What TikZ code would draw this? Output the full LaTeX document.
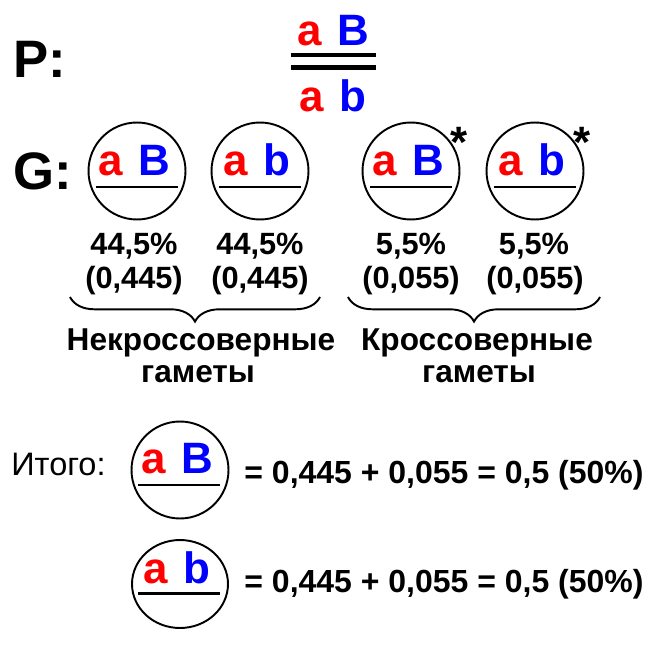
\documentclass[tikz,border=0pt]{standalone}
\usepackage{fontspec}
\setmainfont{Liberation Sans}
\usepackage{tikz}
\usetikzlibrary{shapes.geometric, decorations.pathreplacing, calc}
\usepackage{xcolor}
\definecolor{alleleRed}{RGB}{255,0,0}
\definecolor{alleleBlue}{RGB}{0,0,255}
\newcommand{\genaB}{{\color{alleleRed}a}\hspace{0.36em}{\color{alleleBlue}B}}
\newcommand{\genab}{{\color{alleleRed}a}\hspace{0.36em}{\color{alleleBlue}b}}
\tikzset{
  bigtag/.style={font=\fontsize{30}{30}\selectfont\bfseries, inner sep=0pt, anchor=base west},
  allele/.style={font=\fontsize{25}{25}\selectfont\bfseries, inner sep=0pt, anchor=base},
  gamete/.style={draw, circle, line width=1.1pt, minimum size=1.94cm, inner sep=0pt},
  bar/.style={line width=1.7pt},
  freq/.style={font=\fontsize{17.5}{17.5}\selectfont\bfseries, inner sep=0pt, anchor=base},
  sum/.style={font=\fontsize{18.2}{18.2}\selectfont\bfseries, inner sep=0pt, anchor=base},
  caption/.style={font=\fontsize{18}{18}\selectfont\bfseries, inner sep=0pt, anchor=base},
  cross/.style={font=\fontsize{25}{25}\selectfont\bfseries, inner sep=0pt, anchor=base},
  gbrace/.style={decorate, decoration={brace, mirror, amplitude=14pt}, line width=1.1pt}
}

\begin{document}
\begin{tikzpicture}[x=0.02cm, y=-0.02cm]
\useasboundingbox (0,0) rectangle (662,645);
% parent
\node[bigtag] (P) at (13,78) {P:};
\node[allele] (chrTop) at (333,46) {\genaB};
\node[allele] (chrBot) at (333,112) {\genab};
\draw[line width=2.5pt] (291,55) -- (376,55);
\draw[line width=2.5pt] (291,67.5) -- (376,67.5);
% gametes
\node[bigtag] (G) at (13,190) {G:};
\node[gamete] (g1) at (137,171) {};
\node[allele] at ($(g1)+(-3,4)$) {\genaB};
\draw[bar] ($(g1)+(-41,16)$) -- ($(g1)+(41,16)$);
\node[gamete] (g2) at (260,171) {};
\node[allele] at ($(g2)+(-3,4)$) {\genab};
\draw[bar] ($(g2)+(-41,16)$) -- ($(g2)+(41,16)$);
\node[gamete] (g3) at (411,171) {};
\node[allele] at ($(g3)+(-3,4)$) {\genaB};
\draw[bar] ($(g3)+(-41,16)$) -- ($(g3)+(41,16)$);
\node[gamete] (g4) at (535,171) {};
\node[allele] at ($(g4)+(-3,4)$) {\genab};
\draw[bar] ($(g4)+(-41,16)$) -- ($(g4)+(41,16)$);
\node[cross] (star3) at (459,158) {*};
\node[cross] (star4) at (582,158) {*};
% frequencies
\node[freq] at (134,255) {44,5\%};
\node[freq] at (134,288) {(0,445)};
\node[freq] at (260,255) {44,5\%};
\node[freq] at (260,288) {(0,445)};
\node[freq] at (411,255) {5,5\%};
\node[freq] at (411,288) {(0,055)};
\node[freq] at (534,255) {5,5\%};
\node[freq] at (535,288) {(0,055)};
% braces
\draw[gbrace] (70,297) -- (320,297);
\draw[gbrace] (348,297) -- (600,297);
\node[caption] at (201,350) {Некроссоверные};
\node[caption] at (198,382) {гаметы};
\node[caption] at (477,350) {Кроссоверные};
\node[caption] at (479,382) {гаметы};
% total
\node[font=\fontsize{18.5}{18.5}\selectfont, inner sep=0pt, anchor=base west] (total) at (11,475) {Итого:};
\node[gamete] (s1) at (180,470) {};
\node[allele] at (177,473) {\genaB};
\draw[bar] (138,485) -- (220,485);
\node[gamete, ellipse, minimum width=1.92cm, minimum height=1.76cm] (s2) at (180,584) {};
\node[allele] at (177,583) {\genab};
\draw[bar] (138,593) -- (220,593);
\node[sum] at (444,483) {= 0,445 + 0,055 = 0,5 (50\%)};
\node[sum] at (444,592) {= 0,445 + 0,055 = 0,5 (50\%)};
\end{tikzpicture}
\end{document}
